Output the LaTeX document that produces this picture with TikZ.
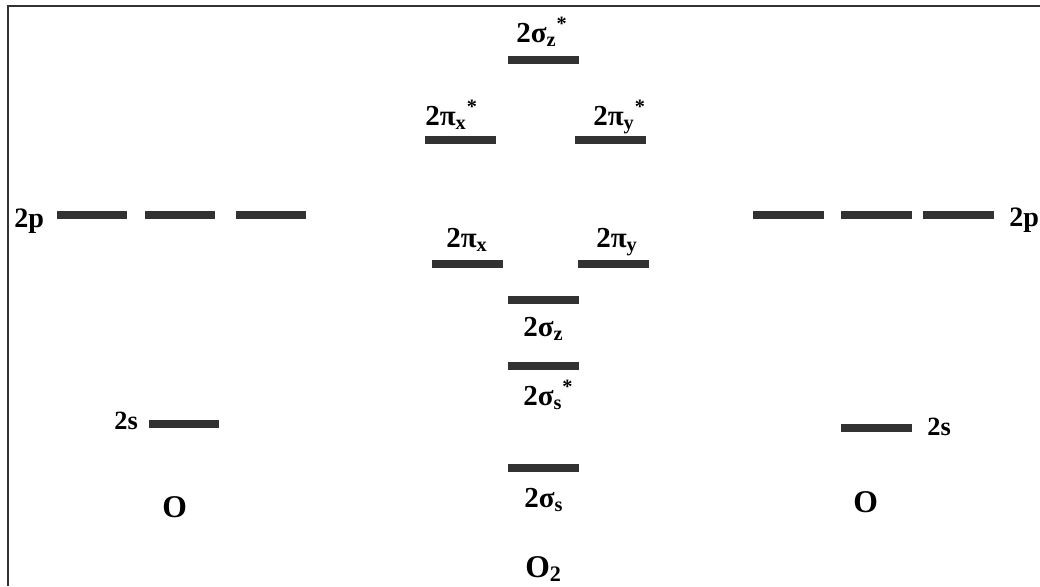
\documentclass[tikz,border=0pt]{standalone}
\usepackage{fontspec}
\setmainfont{Liberation Serif}
\usetikzlibrary{positioning}
\definecolor{levelgray}{RGB}{50,50,50}
\newcommand{\orbital}[3]{2#1\textsubscript{#2}\textsuperscript{#3}}

\begin{document}
\begin{tikzpicture}[x=0.02cm,y=-0.02cm,
    level/.style={fill=levelgray, draw=none, minimum width=1.42cm, minimum height=0.15cm, inner sep=0pt},
    lbl/.style={anchor=base west, inner sep=0pt, font=\fontsize{16.5}{19}\selectfont\bfseries},
    side/.style={anchor=base west, inner sep=0pt, font=\fontsize{16}{19}\selectfont\bfseries}]
    \useasboundingbox (0,0) rectangle (1040,586);
    % frame (top and left only)
    \draw[line width=1pt, black!80] (8,586) -- (8,6) -- (1040,6);
    % left atom O
    \foreach \x/\n in {92/a,180/b,271/c}
        \node[level] (pL\n) at (\x,215) {};
    \node[side] (pLlbl) at (14,227) {2p};
    \node[level] (sL) at (184,424) {};
    \node[side, font=\fontsize{15}{18}\selectfont\bfseries] (sLlbl) at (114,429) {2s};
    \node[side, font=\fontsize{18}{20}\selectfont\bfseries] (OL) at (162,517) {O};
    % right atom O
    \foreach \x/\n in {788/a,876/b,958/c}
        \node[level] (pR\n) at (\x,215) {};
    \node[side] (pRlbl) at (1009,226) {2p};
    \node[level] (sR) at (876,428) {};
    \node[side, font=\fontsize{15}{18}\selectfont\bfseries] (sRlbl) at (927,435) {2s};
    \node[side, font=\fontsize{18}{20}\selectfont\bfseries] (OR) at (853,512) {O};
    % molecule O2
    \node[level] (sigzs) at (543,60) {};
    \node[lbl] (sigzslbl) at (516,42) {\orbital{σ}{z}{*}};
    \node[level] (pixs) at (460,140) {};
    \node[lbl] (pixslbl) at (425,125) {\orbital{π}{x}{*}};
    \node[level] (piys) at (610,140) {};
    \node[lbl] (piyslbl) at (593,125) {\orbital{π}{y}{*}};
    \node[level] (pix) at (467,264) {};
    \node[lbl] (pixlbl) at (446,247) {\orbital{π}{x}{}};
    \node[level] (piy) at (613,264) {};
    \node[lbl] (piylbl) at (596,247) {\orbital{π}{y}{}};
    \node[level] (sigz) at (543,300) {};
    \node[lbl] (sigzlbl) at (523,336) {\orbital{σ}{z}{}};
    \node[level] (sigss) at (543,366) {};
    \node[lbl] (sigsslbl) at (523,405) {\orbital{σ}{s}{*}};
    \node[level] (sigs) at (543,468) {};
    \node[lbl] (sigslbl) at (524,507) {\orbital{σ}{s}{}};
    \node[side, font=\fontsize{18}{20}\selectfont\bfseries] (Otwo) at (525,577) {O\textsubscript{2}};
\end{tikzpicture}
\end{document}
